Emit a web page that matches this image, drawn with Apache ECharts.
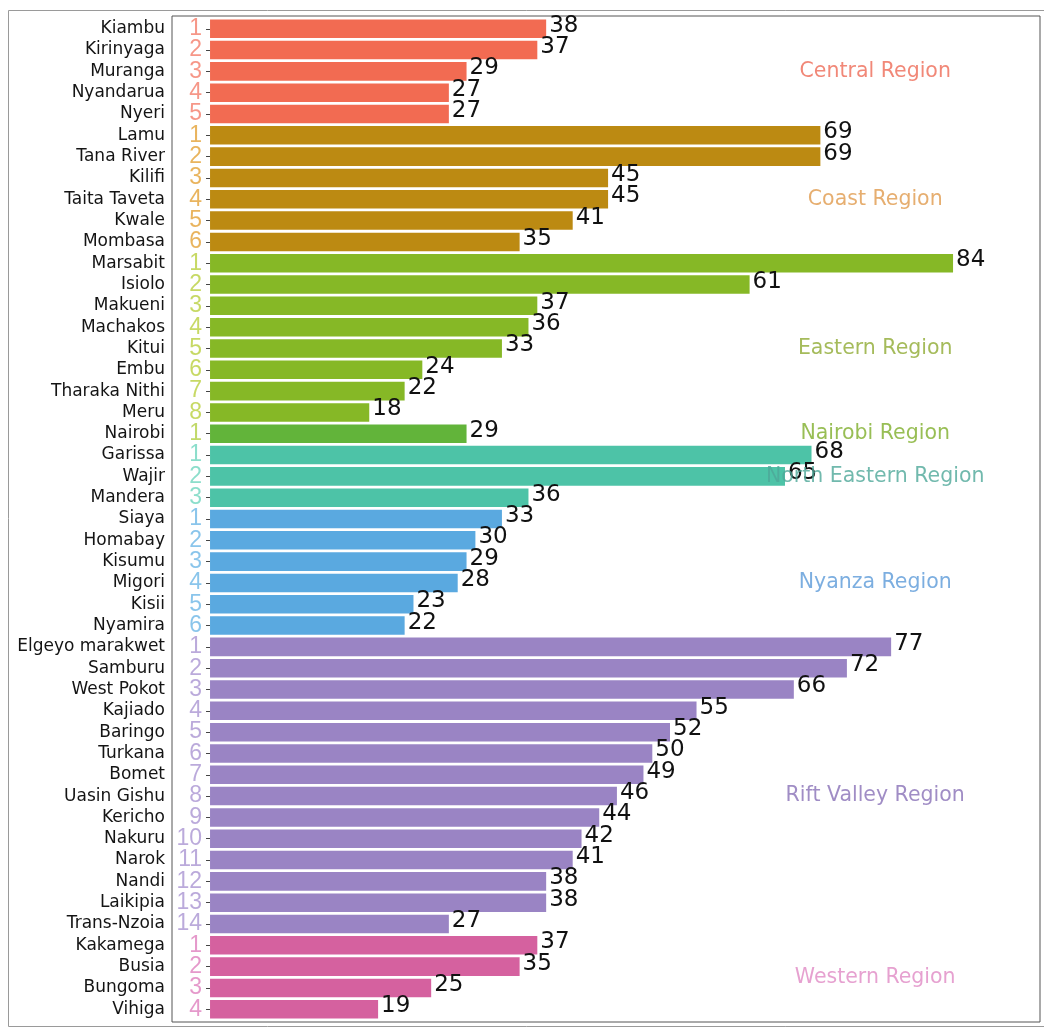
<!DOCTYPE html>
<html><head><meta charset="utf-8">
<script src="https://cdn.jsdelivr.net/npm/echarts@6/dist/echarts.min.js"></script>
<style>html,body{margin:0;padding:0;background:#fff}#c{width:1044px;height:1027px}</style>
</head><body><div id="c"></div>
<script>
const counties = ["Kiambu","Kirinyaga","Muranga","Nyandarua","Nyeri",
  "Lamu","Tana River","Kilifi","Taita Taveta","Kwale","Mombasa",
  "Marsabit","Isiolo","Makueni","Machakos","Kitui","Embu","Tharaka Nithi","Meru",
  "Nairobi",
  "Garissa","Wajir","Mandera",
  "Siaya","Homabay","Kisumu","Migori","Kisii","Nyamira",
  "Elgeyo marakwet","Samburu","West Pokot","Kajiado","Baringo","Turkana","Bomet","Uasin Gishu","Kericho","Nakuru","Narok","Nandi","Laikipia","Trans-Nzoia",
  "Kakamega","Busia","Bungoma","Vihiga"];
const values = [38,37,29,27,27,
  69,69,45,45,41,35,
  84,61,37,36,33,24,22,18,
  29,
  68,65,36,
  33,30,29,28,23,22,
  77,72,66,55,52,50,49,46,44,42,41,38,38,27,
  37,35,25,19];
const ranks = [1,2,3,4,5, 1,2,3,4,5,6, 1,2,3,4,5,6,7,8, 1, 1,2,3, 1,2,3,4,5,6,
  1,2,3,4,5,6,7,8,9,10,11,12,13,14, 1,2,3,4];
const regionOf = [0,0,0,0,0, 1,1,1,1,1,1, 2,2,2,2,2,2,2,2, 3, 4,4,4, 5,5,5,5,5,5,
  6,6,6,6,6,6,6,6,6,6,6,6,6,6, 7,7,7,7];
const regionNames = ["Central Region","Coast Region","Eastern Region","Nairobi Region","North Eastern Region","Nyanza Region","Rift Valley Region","Western Region"];
const regionLabelRow = [2, 8, 15, 19, 21, 26, 36, 44.5];
const regionLabelX = 75.2;
const rankX = -0.9;

const barColors = ["#F26B52","#BC8A12","#86B826","#62B43A","#4DC3A7","#5AA9E0","#9A84C4","#D5619F"];
const rankColors = ["#F47D6A","#E3A136","#B9CF3E","#B2CF45","#6FD6BE","#6DB6E6","#AA95D2","#DE80BE"];
const textColors = ["#EE6A56","#E09A4C","#8EAA32","#7EAE2A","#4DA898","#5B9AD8","#8870B6","#E08AC4"];

const XMIN = -4.3, XMAX = 93.83;
const font = "DejaVu Sans";

const chart = echarts.init(document.getElementById('c'), null, {renderer:'canvas'});
chart.setOption({
  backgroundColor: '#fff',
  animation: false,
  graphic: [{type:'rect', left:6, top:8, shape:{width:1060, height:1016}, style:{fill:'none', stroke:'#9a9a9a', lineWidth:1}, silent:true, z:-1}],
  grid: [
    {left:172, top:16, width:868, height:1006, show:true, borderColor:'#555', borderWidth:1, backgroundColor:'#fff'},
    {left:172, top:18.1, width:868, height:1001.8}
  ],
  xAxis: [
    {type:'value', gridIndex:0, min:XMIN, max:XMAX, show:false},
    {type:'value', gridIndex:1, min:XMIN, max:XMAX, show:false}
  ],
  yAxis: [
    {type:'value', gridIndex:0, min:-0.6, max:46.6, inverse:true, show:false},
    {type:'category', gridIndex:1, data:counties, inverse:true,
     axisLine:{show:false},
     axisTick:{show:true, length:4, alignWithLabel:true, interval:0, lineStyle:{color:'#444'}},
     axisLabel:{color:'#141414', fontSize:17, fontFamily:font, margin:7, interval:0},
     splitLine:{show:false}}
  ],
  series: [
    {type:'bar', xAxisIndex:1, yAxisIndex:1, barCategoryGap:'13%',
     data: values.map((v,i)=>({value:v, itemStyle:{color:barColors[regionOf[i]]}})),
     label:{show:true, position:'right', distance:3, offset:[0,-3], color:'#111', fontSize:23, fontFamily:font}},
    {type:'scatter', xAxisIndex:1, yAxisIndex:1, symbolSize:0,
     data: ranks.map((r,i)=>({value:[rankX, i], label:{color:rankColors[regionOf[i]]}})),
     label:{show:true, position:'left', distance:0, align:'right', fontSize:23, fontFamily:'Liberation Sans', formatter:p=>String(ranks[p.dataIndex])}},
    {type:'scatter', xAxisIndex:0, yAxisIndex:0, symbolSize:0,
     data: regionNames.map((n,k)=>({value:[regionLabelX, regionLabelRow[k]], name:n, label:{color:textColors[k]}})),
     label:{show:true, position:'inside', fontSize:20.5, fontFamily:font, formatter:p=>p.name}, z:5}
  ]
});
</script></body></html>
